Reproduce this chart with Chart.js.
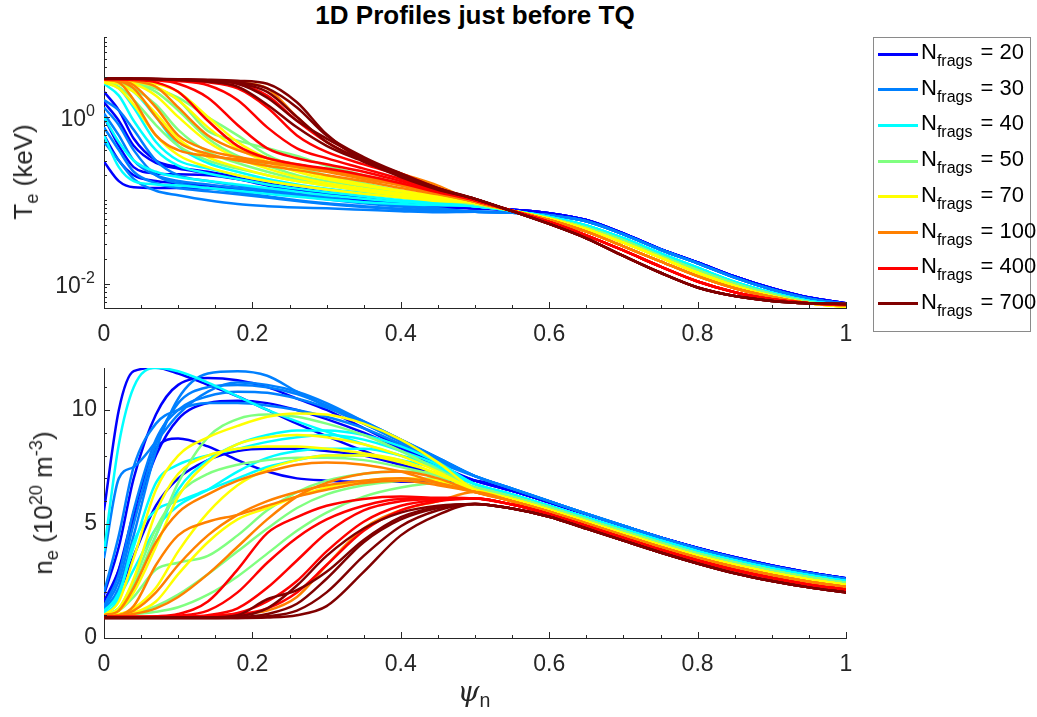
<!DOCTYPE html>
<html>
<head>
<meta charset="utf-8">
<script src="https://cdn.jsdelivr.net/npm/chart.js@4.4.1/dist/chart.umd.min.js"></script>
<style>
  body { margin: 0; background: #fff; width: 1037px; height: 717px; overflow: hidden; position: relative;
         font-family: "Liberation Sans", Arial, sans-serif; color: #262626; }
  canvas { position: absolute; left: 0; }
  #cTe { top: 0; }
  #cNe { top: 340px; }
  #title { position: absolute; left: 104px; width: 742px; top: 0px; text-align: center;
           font-weight: bold; font-size: 26px; color: #000; }
  .ylab { position: absolute; white-space: nowrap; font-size: 26px; line-height: 30px;
          transform: translate(-50%, -50%) rotate(-90deg); }
  .ylab sub, .ylab sup, #psiLabel sub { font-size: 70%; line-height: 0; }
  #psiLabel { position: absolute; white-space: nowrap; font-size: 28px; transform: translate(-50%, -50%); }
  #psiLabel i { font-family: "DejaVu Serif", "Liberation Serif", serif; }
  #legend { position: absolute; left: 873px; top: 37px; width: 158px; height: 295px;
            border: 1px solid #8a8a8a; background: #fff; box-sizing: border-box; }
  .row { position: absolute; left: 0; height: 0; }
  .sw { position: absolute; left: 4px; top: -1.5px; width: 40px; height: 3px; }
  .lbl { position: absolute; left: 47px; top: -14px; white-space: nowrap; font-size: 22px; line-height: 24px; color: #000; }
  .lbl .sub { font-size: 16px; position: relative; top: 7px; margin-right: 2px; }
</style>
</head>
<body>
<div id="title">1D Profiles just before TQ</div>
<canvas id="cTe" width="1037" height="345"></canvas>
<canvas id="cNe" width="1037" height="377"></canvas>
<div class="ylab" id="teLabel" style="left:23px; top:172px;">T<sub>e</sub> (keV)</div>
<div class="ylab" id="neLabel" style="left:43px; top:503px;">n<sub>e</sub> (10<sup>20</sup> m<sup>-3</sup>)</div>
<div id="psiLabel" style="left:474px; top:691px;"><i>ψ</i><sub>n</sub></div>
<div id="legend"></div>
<script>
// Pellet fragment counts and their line colours
const nFrags = [20, 30, 40, 50, 70, 100, 400, 700];
const fragColors = ['#0000ff', '#0080ff', '#00ffff', '#80ff80', '#ffff00', '#ff8000', '#ff0000', '#800000'];

// Normalised flux grid: core part (per run) and edge part (shared per fragment count)
const psiHead = [0, 0.02, 0.04, 0.07, 0.1, 0.14, 0.18, 0.22, 0.26, 0.3, 0.35, 0.4, 0.45];
const psiTail = [0.5, 0.55, 0.6, 0.65, 0.7, 0.75, 0.8, 0.85, 0.9, 0.95, 1.0];

// Axis ticks
const psiTicks = [0, 0.2, 0.4, 0.6, 0.8, 1];
const psiMinor = [0.05, 0.1, 0.15, 0.25, 0.3, 0.35, 0.45, 0.5, 0.55, 0.65, 0.7, 0.75, 0.85, 0.9, 0.95];
const teTicks = [0.01, 1];
const teTickExp = ['-2', '0'];
const neTicks = [0, 5, 10];
const neMinor = [1, 2, 3, 4, 6, 7, 8, 9, 11];

// Electron temperature (keV), core part of each run
const te20 = [
  [2.0, 1.2, 0.55, 0.3, 0.25, 0.22, 0.19, 0.16, 0.14, 0.125, 0.11, 0.098, 0.088],
  [1.0, 0.45, 0.25, 0.21, 0.205, 0.2, 0.18, 0.155, 0.135, 0.12, 0.105, 0.095, 0.086],
  [0.29, 0.17, 0.143, 0.14, 0.14, 0.138, 0.135, 0.125, 0.115, 0.105, 0.095, 0.088, 0.082],
  [1.5, 0.9, 0.45, 0.28, 0.24, 0.21, 0.18, 0.15, 0.13, 0.115, 0.1, 0.09, 0.084],
  [0.6, 0.3, 0.2, 0.17, 0.16, 0.15, 0.14, 0.128, 0.118, 0.108, 0.097, 0.09, 0.084]
];
const te30 = [
  [1.3, 0.8, 0.4, 0.2, 0.16, 0.14, 0.125, 0.112, 0.1, 0.092, 0.085, 0.079, 0.075],
  [0.75, 0.4, 0.22, 0.16, 0.14, 0.128, 0.118, 0.108, 0.098, 0.09, 0.083, 0.078, 0.074],
  [0.5, 0.3, 0.18, 0.13, 0.115, 0.1, 0.09, 0.085, 0.082, 0.08, 0.077, 0.074, 0.072],
  [1.6, 1.2, 0.7, 0.3, 0.2, 0.17, 0.15, 0.135, 0.12, 0.108, 0.095, 0.087, 0.08],
  [1.1, 0.6, 0.3, 0.2, 0.17, 0.155, 0.14, 0.128, 0.115, 0.103, 0.092, 0.084, 0.078]
];
const te40 = [
  [0.6, 0.25, 0.17, 0.155, 0.15, 0.14, 0.13, 0.12, 0.11, 0.102, 0.095, 0.09, 0.087],
  [2.6, 2.2, 1.3, 0.5, 0.3, 0.24, 0.2, 0.17, 0.15, 0.135, 0.12, 0.107, 0.095],
  [2.5, 1.8, 0.9, 0.4, 0.26, 0.21, 0.18, 0.155, 0.138, 0.125, 0.112, 0.1, 0.092],
  [2.7, 2.5, 2.0, 1.0, 0.45, 0.28, 0.22, 0.18, 0.155, 0.138, 0.122, 0.108, 0.096],
  [1.0, 0.5, 0.3, 0.22, 0.19, 0.17, 0.155, 0.14, 0.127, 0.115, 0.104, 0.096, 0.09]
];
const te50 = [
  [2.8, 2.75, 2.6, 2.2, 1.6, 0.68, 0.52, 0.42, 0.34, 0.26, 0.2, 0.16, 0.125],
  [2.8, 2.75, 2.6, 2.2, 1.7, 1.0, 0.6, 0.35, 0.25, 0.2, 0.16, 0.13, 0.11],
  [2.6, 2.3, 1.6, 0.8, 0.45, 0.3, 0.24, 0.2, 0.17, 0.15, 0.13, 0.115, 0.1],
  [2.7, 2.6, 2.2, 1.4, 0.7, 0.38, 0.28, 0.22, 0.18, 0.155, 0.135, 0.118, 0.104],
  [2.75, 2.7, 2.5, 2.0, 1.2, 0.55, 0.34, 0.26, 0.2, 0.17, 0.145, 0.125, 0.108]
];
const te70 = [
  [2.7, 2.5, 2.0, 1.1, 0.55, 0.33, 0.25, 0.2, 0.17, 0.15, 0.13, 0.114, 0.102],
  [2.8, 2.7, 2.5, 1.8, 1.0, 0.5, 0.32, 0.24, 0.19, 0.16, 0.138, 0.12, 0.106],
  [2.8, 2.75, 2.65, 2.3, 1.6, 0.75, 0.42, 0.29, 0.22, 0.18, 0.15, 0.128, 0.11],
  [2.6, 2.2, 1.4, 0.6, 0.35, 0.25, 0.2, 0.17, 0.15, 0.135, 0.12, 0.108, 0.098],
  [2.8, 2.75, 2.7, 2.5, 2.0, 1.0, 0.5, 0.32, 0.24, 0.19, 0.155, 0.13, 0.112]
];
const te100 = [
  [2.8, 2.6, 1.6, 0.6, 0.4, 0.34, 0.31, 0.28, 0.25, 0.22, 0.18, 0.15, 0.12],
  [2.8, 2.75, 2.4, 1.3, 0.6, 0.4, 0.33, 0.29, 0.26, 0.23, 0.19, 0.155, 0.125],
  [2.85, 2.85, 2.8, 2.78, 2.75, 2.7, 2.6, 2.2, 1.0, 0.5, 0.3, 0.21, 0.15],
  [2.8, 2.7, 2.2, 1.0, 0.5, 0.36, 0.3, 0.26, 0.23, 0.2, 0.17, 0.14, 0.118],
  [2.85, 2.8, 2.7, 2.3, 1.3, 0.6, 0.4, 0.32, 0.27, 0.23, 0.19, 0.155, 0.125]
];
const te400 = [
  [2.85, 2.85, 2.8, 2.6, 2.0, 0.9, 0.45, 0.32, 0.27, 0.24, 0.2, 0.16, 0.125],
  [2.85, 2.85, 2.82, 2.75, 2.5, 1.7, 0.8, 0.42, 0.32, 0.27, 0.22, 0.17, 0.13],
  [2.85, 2.85, 2.83, 2.8, 2.7, 2.4, 1.6, 0.75, 0.42, 0.32, 0.24, 0.18, 0.135],
  [2.85, 2.85, 2.83, 2.8, 2.75, 2.6, 2.2, 1.3, 0.6, 0.38, 0.27, 0.2, 0.14],
  [2.85, 2.85, 2.84, 2.82, 2.78, 2.7, 2.5, 1.8, 0.9, 0.5, 0.3, 0.21, 0.14]
];
const te700 = [
  [2.9, 2.9, 2.88, 2.86, 2.84, 2.8, 2.72, 2.5, 1.5, 0.62, 0.3, 0.2, 0.14],
  [2.9, 2.9, 2.88, 2.85, 2.8, 2.7, 2.5, 1.7, 0.9, 0.55, 0.32, 0.2, 0.138],
  [2.9, 2.9, 2.88, 2.85, 2.8, 2.72, 2.55, 2.0, 1.0, 0.5, 0.3, 0.2, 0.136],
  [2.9, 2.9, 2.87, 2.84, 2.78, 2.65, 2.3, 1.4, 0.75, 0.45, 0.29, 0.19, 0.134],
  [2.9, 2.9, 2.88, 2.86, 2.82, 2.75, 2.6, 2.2, 1.3, 0.6, 0.33, 0.21, 0.14]
];

// Electron temperature (keV), edge part per fragment count
const teTail20  = [0.08, 0.077, 0.07, 0.058, 0.04, 0.026, 0.018, 0.0122, 0.0088, 0.0068, 0.0058];
const teTail30  = [0.073, 0.071, 0.066, 0.056, 0.039, 0.0255, 0.0175, 0.0118, 0.0085, 0.0066, 0.0057];
const teTail40  = [0.085, 0.075, 0.063, 0.05, 0.035, 0.023, 0.0155, 0.0105, 0.0078, 0.0062, 0.0055];
const teTail50  = [0.09, 0.075, 0.061, 0.047, 0.033, 0.0215, 0.0145, 0.01, 0.0075, 0.006, 0.0054];
const teTail70  = [0.093, 0.075, 0.06, 0.045, 0.031, 0.0205, 0.0135, 0.0094, 0.0071, 0.0058, 0.0053];
const teTail100 = [0.096, 0.075, 0.058, 0.042, 0.028, 0.0185, 0.0123, 0.0088, 0.0069, 0.0058, 0.0055];
const teTail400 = [0.1, 0.075, 0.055, 0.038, 0.025, 0.016, 0.0106, 0.0079, 0.0065, 0.0058, 0.0056];
const teTail700 = [0.104, 0.074, 0.052, 0.035, 0.0215, 0.0135, 0.009, 0.0071, 0.0062, 0.0058, 0.0057];

// Electron density (1e20 m^-3), core part of each run
const ne20 = [
  [5.6, 10.0, 11.7, 11.85, 11.6, 11.1, 10.6, 10.0, 9.4, 8.85, 8.2, 7.6, 7.2],
  [1.9, 4.0, 7.0, 9.8, 11.1, 11.4, 11.3, 11.0, 10.5, 10.0, 9.2, 8.4, 7.6],
  [1.6, 3.0, 5.2, 8.0, 9.6, 10.3, 10.4, 10.3, 10.0, 9.6, 9.0, 8.3, 7.5],
  [1.3, 3.0, 5.5, 8.3, 8.75, 8.4, 7.8, 7.3, 7.0, 6.9, 6.85, 6.85, 6.85],
  [1.2, 2.0, 3.6, 5.8, 7.0, 7.8, 8.2, 8.3, 8.3, 8.2, 8.0, 7.6, 7.2]
];
const ne30 = [
  [3.5, 7.0, 7.5, 8.6, 9.8, 10.8, 11.2, 11.1, 10.8, 10.3, 9.5, 8.7, 7.9],
  [1.2, 2.2, 4.5, 8.2, 10.5, 11.6, 11.7, 11.5, 10.8, 10.15, 9.4, 8.65, 7.9],
  [1.3, 2.5, 5.0, 8.5, 10.3, 11.0, 11.1, 11.0, 10.7, 10.2, 9.5, 8.7, 7.9],
  [1.4, 2.8, 5.6, 8.7, 10.0, 10.6, 10.8, 10.75, 10.5, 10.1, 9.4, 8.6, 7.8],
  [2.0, 4.5, 7.5, 9.4, 10.0, 10.3, 10.3, 10.2, 10.0, 9.7, 9.2, 8.5, 7.7]
];
const ne40 = [
  [3.8, 8.5, 11.0, 11.85, 11.7, 11.2, 10.6, 10.0, 9.5, 9.05, 8.5, 8.0, 7.4],
  [1.2, 1.8, 3.0, 4.8, 5.8, 6.5, 7.3, 7.9, 8.2, 8.3, 8.3, 8.0, 7.5],
  [1.1, 2.0, 4.0, 6.8, 7.6, 8.0, 8.3, 8.6, 8.8, 8.9, 8.7, 8.2, 7.6],
  [1.0, 1.8, 4.2, 5.6, 6.0, 6.5, 7.0, 7.5, 7.8, 8.0, 8.0, 7.8, 7.4],
  [1.0, 1.3, 2.2, 4.5, 6.5, 7.8, 8.5, 8.9, 9.1, 9.1, 8.9, 8.4, 7.7]
];
const ne50 = [
  [1.0, 1.3, 2.3, 4.5, 6.8, 8.8, 9.6, 9.8, 9.7, 9.4, 8.9, 8.2, 7.4],
  [0.95, 1.0, 1.1, 1.4, 1.9, 2.8, 3.8, 4.8, 5.7, 6.3, 6.7, 6.9, 7.0],
  [0.95, 1.0, 1.05, 1.15, 1.35, 1.9, 2.7, 3.7, 4.7, 5.5, 6.2, 6.6, 6.8],
  [1.0, 1.3, 2.5, 4.8, 6.3, 7.2, 7.6, 7.8, 7.9, 7.9, 7.8, 7.5, 7.1],
  [1.0, 1.2, 1.8, 3.0, 3.3, 3.6, 4.5, 5.6, 6.4, 6.9, 7.2, 7.3, 7.2]
];
const ne70 = [
  [1.0, 1.6, 3.5, 6.5, 8.0, 8.8, 9.3, 9.7, 9.85, 9.8, 9.4, 8.7, 7.7],
  [1.0, 1.2, 2.0, 4.0, 6.2, 7.7, 8.5, 8.8, 8.9, 8.8, 8.5, 8.0, 7.3],
  [1.0, 1.05, 1.3, 2.2, 3.8, 5.5, 6.7, 7.4, 7.8, 8.0, 8.0, 7.7, 7.2],
  [1.0, 1.0, 1.1, 1.6, 2.8, 4.2, 5.2, 5.7, 6.2, 6.6, 6.9, 7.0, 6.9],
  [1.0, 1.3, 2.6, 5.5, 7.2, 8.0, 8.3, 8.4, 8.4, 8.3, 8.1, 7.8, 7.2]
];
const ne100 = [
  [1.0, 1.2, 2.2, 4.2, 5.5, 6.3, 6.9, 7.3, 7.6, 7.7, 7.6, 7.3, 6.8],
  [0.95, 1.0, 1.4, 3.2, 4.5, 5.1, 5.4, 5.8, 6.2, 6.5, 6.8, 6.9, 6.7],
  [0.92, 0.92, 0.92, 0.92, 0.93, 0.95, 1.05, 1.2, 1.8, 3.2, 4.8, 5.6, 6.0],
  [0.95, 1.0, 1.2, 2.0, 3.2, 4.5, 5.4, 6.0, 6.4, 6.7, 6.9, 7.0, 6.8],
  [0.95, 0.97, 1.05, 1.3, 1.8, 2.8, 4.0, 5.2, 6.2, 6.8, 7.2, 7.3, 7.0]
];
const ne400 = [
  [0.92, 0.92, 0.93, 0.95, 1.05, 1.6, 3.0, 4.6, 5.3, 5.8, 6.1, 6.2, 6.15],
  [0.92, 0.92, 0.92, 0.93, 0.97, 1.2, 2.0, 3.3, 4.4, 5.2, 5.8, 6.1, 6.1],
  [0.92, 0.92, 0.92, 0.92, 0.94, 1.0, 1.3, 2.2, 3.4, 4.6, 5.6, 6.0, 6.1],
  [0.92, 0.92, 0.92, 0.92, 0.93, 0.96, 1.1, 1.6, 2.5, 3.8, 5.1, 5.8, 6.05],
  [0.92, 0.92, 0.92, 0.92, 0.92, 0.94, 1.02, 1.3, 2.0, 3.2, 4.7, 5.6, 6.0]
];
const ne700 = [
  [0.9, 0.9, 0.9, 0.9, 0.9, 0.9, 0.95, 1.3, 2.3, 3.6, 4.8, 5.5, 5.8],
  [0.9, 0.9, 0.9, 0.9, 0.9, 0.9, 1.0, 1.7, 2.1, 2.9, 4.3, 5.3, 5.75],
  [0.88, 0.88, 0.88, 0.88, 0.88, 0.88, 0.9, 1.05, 1.5, 2.6, 4.2, 5.2, 5.7],
  [0.88, 0.88, 0.88, 0.88, 0.88, 0.88, 0.88, 0.95, 1.2, 2.0, 3.6, 4.9, 5.6],
  [0.88, 0.88, 0.88, 0.88, 0.88, 0.88, 0.88, 0.9, 1.0, 1.4, 2.9, 4.5, 5.4]
];

// Electron density, edge part per fragment count
const neTail20  = [6.9, 6.45, 5.95, 5.43, 4.91, 4.41, 3.95, 3.54, 3.18, 2.87, 2.62];
const neTail30  = [7.1, 6.55, 6.0, 5.45, 4.92, 4.4, 3.92, 3.5, 3.14, 2.84, 2.58];
const neTail40  = [6.75, 6.3, 5.8, 5.29, 4.77, 4.27, 3.8, 3.4, 3.05, 2.75, 2.5];
const neTail50  = [6.6, 6.2, 5.72, 5.2, 4.68, 4.18, 3.71, 3.31, 2.96, 2.66, 2.42];
const neTail70  = [6.5, 6.1, 5.63, 5.11, 4.59, 4.08, 3.61, 3.21, 2.86, 2.57, 2.33];
const neTail100 = [6.4, 6.0, 5.54, 5.02, 4.5, 3.99, 3.52, 3.11, 2.76, 2.47, 2.24];
const neTail400 = [6.12, 5.85, 5.43, 4.91, 4.39, 3.87, 3.4, 2.98, 2.63, 2.34, 2.12];
const neTail700 = [5.88, 5.68, 5.32, 4.8, 4.27, 3.75, 3.27, 2.84, 2.5, 2.22, 2.0];

const teRuns = [te20, te30, te40, te50, te70, te100, te400, te700];
const teTails = [teTail20, teTail30, teTail40, teTail50, teTail70, teTail100, teTail400, teTail700];
const neRuns = [ne20, ne30, ne40, ne50, ne70, ne100, ne400, ne700];
const neTails = [neTail20, neTail30, neTail40, neTail50, neTail70, neTail100, neTail400, neTail700];

const FONT = '"Liberation Sans", Arial, sans-serif';
const INK = '#262626';

function profile(head, tail) {
  return psiHead.map((p, i) => ({ x: p, y: head[i] }))
    .concat(psiTail.map((p, i) => ({ x: p, y: tail[i] })));
}

function buildDatasets(runs, tails) {
  const sets = [];
  runs.forEach((group, g) => {
    group.forEach(head => {
      sets.push({
        data: profile(head, tails[g]),
        borderColor: fragColors[g],
        borderWidth: 2.5,
        pointRadius: 0,
        fill: false,
        cubicInterpolationMode: 'monotone'
      });
    });
  });
  // later fragment counts are drawn over earlier ones
  sets.forEach((s, i) => { s.order = sets.length - i; });
  return sets;
}

// Inward-pointing tick marks on the left and bottom axes
const tickMarks = {
  id: 'tickMarks',
  afterDraw(chart, args, opts) {
    const ctx = chart.ctx, a = chart.chartArea;
    const xs = chart.scales.x, ys = chart.scales.y;
    ctx.save();
    ctx.strokeStyle = INK;
    ctx.lineWidth = 1;
    ctx.beginPath();
    const xMark = (v, len) => {
      const px = Math.round(xs.getPixelForValue(v)) + 0.5;
      ctx.moveTo(px, a.bottom); ctx.lineTo(px, a.bottom - len);
    };
    const yMark = (v, len) => {
      const py = Math.round(ys.getPixelForValue(v)) + 0.5;
      ctx.moveTo(a.left, py); ctx.lineTo(a.left + len, py);
    };
    opts.xMajor.forEach(v => xMark(v, 6));
    opts.xMinor.forEach(v => xMark(v, 3));
    opts.yMajor.forEach(v => yMark(v, 6));
    opts.yMinor.forEach(v => yMark(v, 3));
    ctx.stroke();
    ctx.restore();
  }
};

// Power-of-ten labels on the logarithmic axis
const powerLabels = {
  id: 'powerLabels',
  afterDraw(chart, args, opts) {
    if (!opts.values) return;
    const ctx = chart.ctx, ys = chart.scales.y;
    const right = chart.chartArea.left - 9;
    ctx.save();
    ctx.fillStyle = INK;
    ctx.textBaseline = 'alphabetic';
    opts.values.forEach((v, i) => {
      const py = ys.getPixelForValue(v);
      ctx.font = '16px ' + FONT;
      const we = ctx.measureText(opts.exps[i]).width;
      ctx.fillText(opts.exps[i], right - we, py - 1);
      ctx.font = '23px ' + FONT;
      const wb = ctx.measureText('10').width;
      ctx.fillText('10', right - we - wb, py + 9);
    });
    ctx.restore();
  }
};

const fmtPsi = v => String(+v.toFixed(1));

function xAxis(height) {
  return {
    type: 'linear', min: 0, max: 1,
    afterBuildTicks: s => { s.ticks = psiTicks.map(v => ({ value: v })); },
    afterFit: s => { s.height = height; },
    ticks: { padding: 13, maxRotation: 0, autoSkip: false, color: INK,
             font: { family: FONT, size: 23 }, callback: fmtPsi },
    grid: { display: false, drawTicks: false },
    border: { display: true, color: INK, width: 1 }
  };
}

// log-axis minor ticks: 2..9 within each decade, plus 0.1
const teMinor = [];
[-3, -2, -1, 0].forEach(d => {
  [2, 3, 4, 5, 6, 7, 8, 9].forEach(m => teMinor.push(m * Math.pow(10, d)));
});
const teMinorIn = teMinor.filter(v => v > 0.0051 && v < 9.1);
teMinorIn.push(0.1);

new Chart(document.getElementById('cTe'), {
  type: 'line',
  data: { datasets: buildDatasets(teRuns, teTails) },
  options: {
    responsive: false, animation: false, devicePixelRatio: 1,
    layout: { padding: { left: 0, top: 37, right: 191, bottom: 0 } },
    plugins: {
      legend: { display: false }, tooltip: { enabled: false },
      tickMarks: { xMajor: psiTicks, xMinor: psiMinor, yMajor: teTicks, yMinor: teMinorIn },
      powerLabels: { values: teTicks, exps: teTickExp }
    },
    scales: {
      x: xAxis(37),
      y: {
        type: 'logarithmic', min: 0.0051, max: 9.1,
        afterBuildTicks: s => { s.ticks = teTicks.map(v => ({ value: v })); },
        afterFit: s => { s.width = 104; },
        ticks: { display: false },
        grid: { display: false, drawTicks: false },
        border: { display: true, color: INK, width: 1 }
      }
    }
  },
  plugins: [tickMarks, powerLabels]
});

new Chart(document.getElementById('cNe'), {
  type: 'line',
  data: { datasets: buildDatasets(neRuns, neTails) },
  options: {
    responsive: false, animation: false, devicePixelRatio: 1,
    layout: { padding: { left: 0, top: 28, right: 191, bottom: 0 } },
    plugins: {
      legend: { display: false }, tooltip: { enabled: false },
      tickMarks: { xMajor: psiTicks, xMinor: psiMinor, yMajor: neTicks, yMinor: neMinor }
    },
    scales: {
      x: xAxis(79),
      y: {
        type: 'linear', min: 0, max: 11.84,
        afterBuildTicks: s => { s.ticks = neTicks.map(v => ({ value: v })); },
        afterFit: s => { s.width = 104; },
        ticks: { padding: 7, color: INK, font: { family: FONT, size: 23 } },
        grid: { display: false, drawTicks: false },
        border: { display: true, color: INK, width: 1 }
      }
    }
  },
  plugins: [tickMarks]
});

// Legend rows
const legend = document.getElementById('legend');
nFrags.forEach((n, i) => {
  const row = document.createElement('div');
  row.className = 'row';
  row.style.top = (16 + i * 35.7) + 'px';
  row.innerHTML = '<span class="sw" style="background:' + fragColors[i] + '"></span>' +
    '<span class="lbl">N<span class="sub">frags</span> = ' + n + '</span>';
  legend.appendChild(row);
});
</script>
</body>
</html>
